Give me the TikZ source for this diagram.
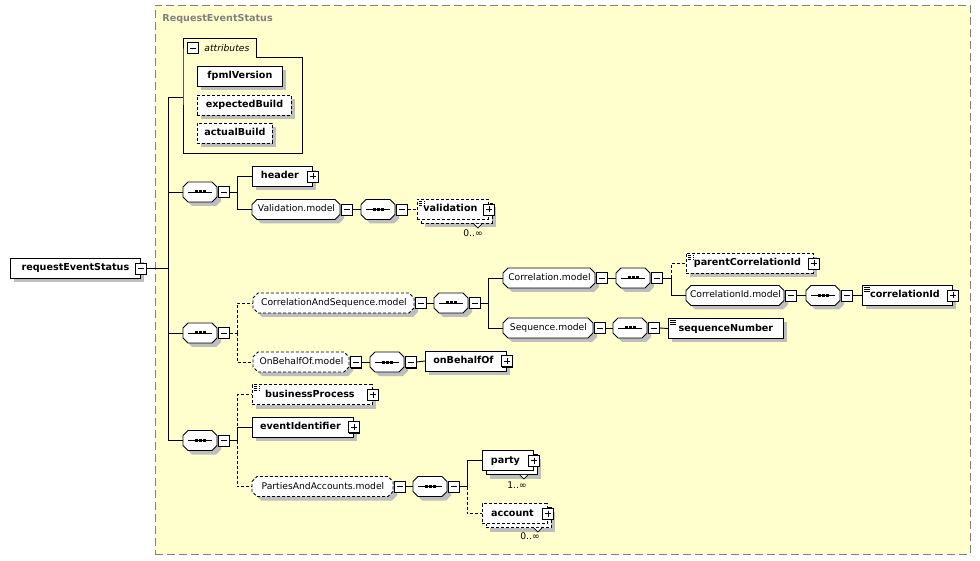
\documentclass[tikz,border=0pt]{standalone}
\usepackage{fontspec}
\setmainfont{DejaVu Sans}
\usetikzlibrary{shadows}
\definecolor{grpbg}{RGB}{255,255,206}
\definecolor{grpline}{RGB}{128,128,128}
\definecolor{shadowgray}{RGB}{190,190,190}
\newcommand{\elfont}{\fontsize{9.6}{11}\selectfont\bfseries}
\newcommand{\grpfont}{\fontsize{9.2}{11}\selectfont}
% octagon (model group / compositor): [style]{name}{x}{y}{width}{text}
\newcommand{\octo}[6][]{%
  \draw[fill=white, shad, #1] ({#3},{#4-5}) -- ({#3+5},{#4-10}) -- ({#3+#5-5},{#4-10})
    -- ({#3+#5},{#4-5}) -- ({#3+#5},{#4+5}) -- ({#3+#5-5},{#4+10}) -- ({#3+5},{#4+10})
    -- ({#3},{#4+5}) -- cycle;
  \node[anchor=west, minimum width=#5pt, minimum height=20pt, inner sep=0pt,
        text height=7pt, text depth=2pt, font=\grpfont] (#2) at (#3,#4) {#6};}
% sequence compositor: {name}{x}{y}
\newcommand{\seqnode}[3]{%
  \octo{#1}{#2}{#3}{34}{}
  \draw (#1.center) +(-12,0) -- +(12,0);
  \foreach \d in {-3.8,0,3.8}
    \fill (#1.center) ++(\d,0) +(-1.5,-1.5) rectangle +(1.5,1.5);}

\begin{document}
\begin{tikzpicture}[
  x=1pt, y=-1pt, line width=0.9pt,
  base/.style={draw, fill=white, anchor=west, minimum height=20pt,
               inner xsep=0pt, inner ysep=0pt, text height=7pt, text depth=2pt},
  shad/.style={drop shadow={shadow xshift=4pt, shadow yshift=-4pt,
                            fill=shadowgray, opacity=1}},
  front/.style={base, font=\elfont, minimum width=#1},
  elem/.style={front=#1, shad},
  back/.style={base, shad, minimum width=#1},
  opt/.style={dash pattern=on 3pt off 2pt},
  plsp/.style={execute at end node={\hspace{5pt}}},
  simple/.style={path picture={
                \foreach \k in {2,4,6}
                  \draw[line width=0.6pt] ([shift={(2pt,-\k pt)}]path picture bounding box.north west)
                    -- +(6pt,0pt);}},
  pmbox/.style={draw, fill=white, minimum size=11pt, inner sep=0pt, line width=0.8pt},
  btn/.style={pmbox, drop shadow={shadow xshift=1pt, shadow yshift=-1pt,
                                  fill=black, opacity=1}},
  minus/.style={btn, path picture={
                \draw[line width=0.8pt] ([xshift=2.5pt]path picture bounding box.west)
                  -- ([xshift=-2.5pt]path picture bounding box.east);}},
  plus/.style={btn, path picture={
                \draw[line width=0.8pt] ([xshift=2.5pt]path picture bounding box.west)
                  -- ([xshift=-2.5pt]path picture bounding box.east);
                \draw[line width=0.8pt] ([yshift=-2.5pt]path picture bounding box.north)
                  -- ([yshift=2.5pt]path picture bounding box.south);}},
  mult/.style={font=\grpfont, inner sep=0pt},
  notch/.style={fill=white, line width=0.7pt}
]
  \useasboundingbox (0,0) rectangle (980,561);

  % group frame
  \node[draw=grpline, fill=grpbg, dash pattern=on 8pt off 4pt, anchor=north west,
        minimum width=815pt, minimum height=549pt, inner sep=0pt] (grp) at (155,5) {};
  \node[anchor=west, font=\elfont, text=grpline, inner sep=0pt] (grpname) at (162,19) {RequestEventStatus};

  % root
  \node[elem=130pt] (res) at (10,268.5) {requestEventStatus};
  \node[minus] (resm) at (res.east) {};
  \coordinate (j0) at (168,268.5);

  % attributes
  \node[anchor=north west, minimum width=119pt, minimum height=96pt, inner sep=0pt] (attrs) at (183,57) {};
  \node[anchor=north west, minimum height=19pt, inner sep=0pt, text width=73pt, align=left,
        font=\grpfont\itshape] (atab) at (183,38) {\hspace*{21pt}attributes};
  \draw (atab.south west) |- (atab.north east) |- (attrs.north east) |- (attrs.south west) -- cycle;
  \node[pmbox, path picture={\draw[line width=0.8pt] ([xshift=2.5pt]path picture bounding box.west)
        -- ([xshift=-2.5pt]path picture bounding box.east);}] (atabm) at (193,48) {};
  \node[elem=85pt] (fpml) at (197,76.5) {fpmlVersion};
  \node[elem=94pt, opt] (expb) at (197,105) {expectedBuild};
  \node[elem=75pt, opt] (actb) at (197,133) {actualBuild};

  % first sequence
  \seqnode{sq1}{183}{192}
  \node[minus, anchor=west] (sq1m) at (sq1.east) {};
  \coordinate (j1) at (237,192);
  \node[elem=60pt, plsp] (hdr) at (252,176.5) {header};
  \node[plus] (hdrp) at (hdr.east) {};
  \octo{valm}{252}{209.5}{88}{Validation.model}
  \node[minus, anchor=west] (valmm) at (valm.east) {};
  \seqnode{valsq}{361}{209.5}
  \node[minus, anchor=west] (valsqm) at (valsq.east) {};
  \node[back=71pt, opt] (valb) at (421,213.5) {};
  \node[front=71pt, opt, simple, plsp] (val) at (417,209.5) {validation};
  \node[plus] (valp) at (val.east) {};
  \node[mult] (valn) at (473,233) {0..∞};
  \draw[notch] (valb.south east) ++(-19,0) -- ++(4,4) -- ++(4,-4);

  % second sequence
  \seqnode{sq2}{183}{333}
  \node[minus, anchor=west] (sq2m) at (sq2.east) {};
  \coordinate (j2) at (237,333);
  \octo[opt]{cas}{253}{303}{161}{CorrelationAndSequence.model}
  \node[minus, anchor=west] (casm) at (cas.east) {};
  \seqnode{cassq}{434}{303}
  \node[minus, anchor=west] (cassqm) at (cassq.east) {};
  \coordinate (j3) at (488,303);
  \octo{corm}{503}{278}{92}{Correlation.model}
  \node[minus, anchor=west] (cormm) at (corm.east) {};
  \seqnode{corsq}{616}{278}
  \node[minus, anchor=west] (corsqm) at (corsq.east) {};
  \coordinate (j4) at (671,278);
  \node[elem=127pt, opt, simple, plsp] (pcid) at (686,263.5) {parentCorrelationId};
  \node[plus] (pcidp) at (pcid.east) {};
  \octo{cidm}{686}{295.5}{98}{CorrelationId.model}
  \node[minus, anchor=west] (cidmm) at (cidm.east) {};
  \seqnode{cidsq}{806}{295.5}
  \node[minus, anchor=west] (cidsqm) at (cidsq.east) {};
  \node[elem=90pt, simple, plsp] (cid) at (862,295.5) {correlationId};
  \node[plus] (cidp) at (cid.east) {};
  \octo{seqm}{503}{328}{90}{Sequence.model}
  \node[minus, anchor=west] (seqmm) at (seqm.east) {};
  \seqnode{seqsq}{613}{328}
  \node[minus, anchor=west] (seqsqm) at (seqsq.east) {};
  \node[elem=115pt, simple] (sqn) at (668,328.5) {sequenceNumber};
  \octo[opt]{obo}{253}{362}{96}{OnBehalfOf.model}
  \node[minus, anchor=west] (obom) at (obo.east) {};
  \seqnode{obosq}{370}{362}
  \node[minus, anchor=west] (obosqm) at (obosq.east) {};
  \node[elem=81pt, plsp] (onb) at (425,361) {onBehalfOf};
  \node[plus] (onbp) at (onb.east) {};

  % third sequence
  \seqnode{sq3}{183}{440.5}
  \node[minus, anchor=west] (sq3m) at (sq3.east) {};
  \coordinate (j5) at (237,440.5);
  \node[elem=120pt, opt, simple, plsp] (bp) at (252,394.5) {businessProcess};
  \node[plus] (bpp) at (bp.east) {};
  \node[elem=101pt, plsp] (eid) at (252,427) {eventIdentifier};
  \node[plus] (eidp) at (eid.east) {};
  \octo[opt]{paa}{252}{486.5}{141}{PartiesAndAccounts.model}
  \node[minus, anchor=west] (paam) at (paa.east) {};
  \seqnode{paasq}{413}{486.5}
  \node[minus, anchor=west] (paasqm) at (paasq.east) {};
  \coordinate (j6) at (467,486.5);
  \node[back=51pt] (partyb) at (486,464.5) {};
  \node[front=51pt, plsp] (party) at (482,460.5) {party};
  \node[plus] (partyp) at (party.east) {};
  \node[mult] (partyn) at (517,485) {1..∞};
  \draw[notch] (partyb.south east) ++(-18,0) -- ++(4,4) -- ++(4,-4);
  \node[back=65pt, opt] (accb) at (486,517.5) {};
  \node[front=65pt, opt, plsp] (acc) at (482,513.5) {account};
  \node[plus] (accp) at (acc.east) {};
  \node[mult] (accn) at (530,536) {0..∞};
  \draw[notch] (accb.south east) ++(-18,0) -- ++(4,4) -- ++(4,-4);

  % connectors
  \draw (resm.east) -- (j0);
  \draw (j0) |- ([yshift=8pt]attrs.west);
  \draw (j0) |- (sq1.west);
  \draw (j0) |- (sq2.west);
  \draw (j0) |- (sq3.west);
  \draw (sq1m.east) -- (j1);
  \draw (j1) |- (hdr.west);
  \draw (j1) |- (valm.west);
  \draw (valmm.east) -- (valsq.west);
  \draw[opt] (valsqm.east) -- (val.west);
  \draw[opt] (sq2m.east) -- (j2);
  \draw[opt] (j2) |- (cas.west);
  \draw[opt] (j2) |- (obo.west);
  \draw (casm.east) -- (cassq.west);
  \draw (cassqm.east) -- (j3);
  \draw (j3) |- (corm.west);
  \draw (j3) |- (seqm.west);
  \draw (cormm.east) -- (corsq.west);
  \draw (corsqm.east) -- (j4);
  \draw[opt] (j4) |- (pcid.west);
  \draw (j4) |- (cidm.west);
  \draw (cidmm.east) -- (cidsq.west);
  \draw (cidsqm.east) -- (cid.west);
  \draw (seqmm.east) -- (seqsq.west);
  \draw (seqsqm.east) -- (sqn.west);
  \draw (obom.east) -- (obosq.west);
  \draw (obosqm.east) -- (onb.west);
  \draw (sq3m.east) -- (j5);
  \draw[opt] (j5) |- (bp.west);
  \draw (j5) |- (eid.west);
  \draw[opt] (j5) |- (paa.west);
  \draw (paam.east) -- (paasq.west);
  \draw (paasqm.east) -- (j6);
  \draw (j6) |- (party.west);
  \draw[opt] (j6) |- (acc.west);
\end{tikzpicture}
\end{document}
